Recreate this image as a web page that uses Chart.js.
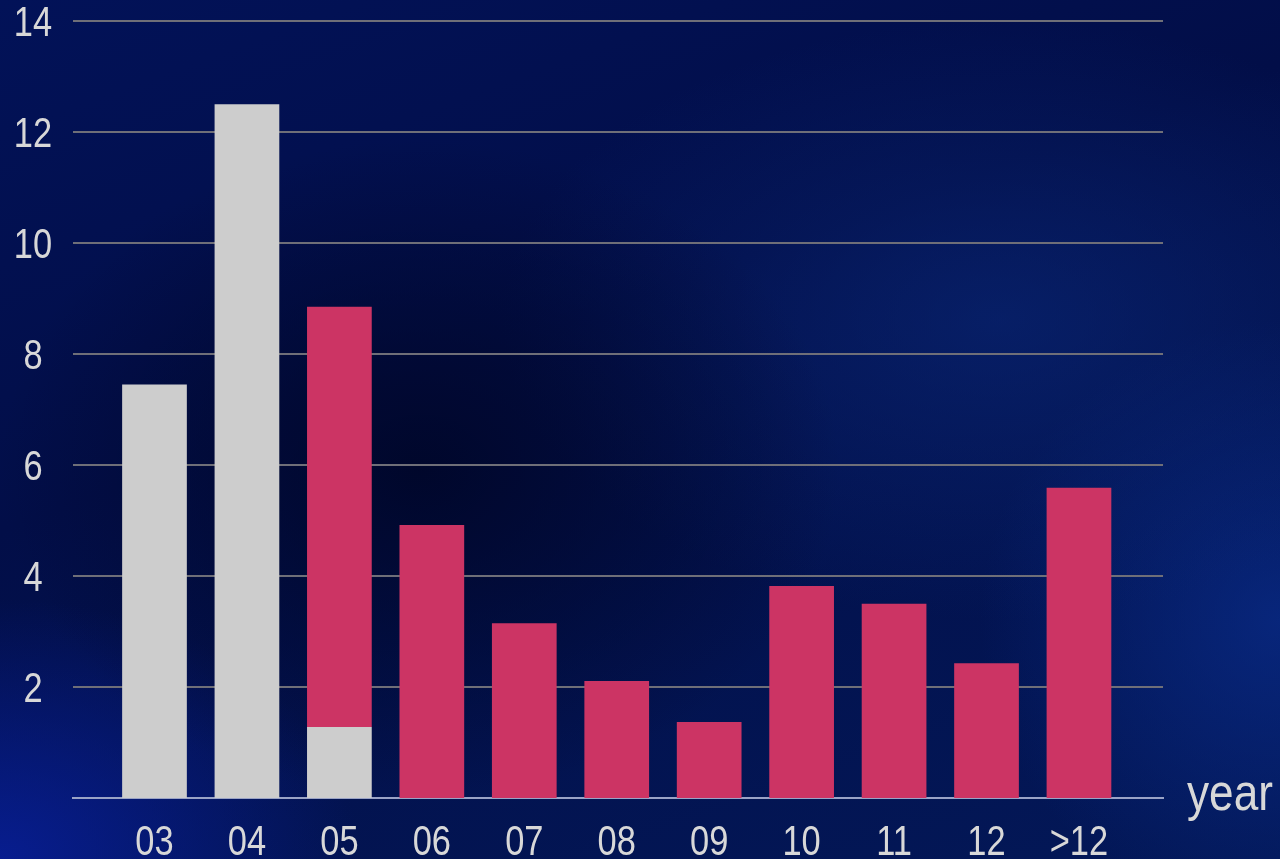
<!DOCTYPE html>
<html>
<head>
<meta charset="utf-8">
<script src="https://cdn.jsdelivr.net/npm/chart.js@4/dist/chart.umd.min.js"></script>
<style>
  html, body { margin: 0; padding: 0; }
  body {
    width: 1280px; height: 859px; overflow: hidden;
    background:
      radial-gradient(ellipse 420px 330px at 420px 470px, rgba(0,6,40,0.9), rgba(0,6,40,0) 100%),
      radial-gradient(ellipse 500px 300px at 1000px 320px, rgba(10,40,120,0.6), rgba(10,40,120,0) 100%),
      radial-gradient(ellipse 360px 260px at 0px 859px, rgba(8,30,150,0.9), rgba(8,30,150,0) 100%),
      radial-gradient(ellipse 300px 300px at 1280px 620px, rgba(10,45,140,0.7), rgba(10,45,140,0) 100%),
      linear-gradient(160deg, #021258 0%, #020e48 40%, #031858 100%);
  }
  #wrap { width: 1280px; height: 859px; }
</style>
</head>
<body>
<div id="wrap"><canvas id="chart" width="1280" height="859"></canvas></div>
<script>
const categories = ["03", "04", "05", "06", "07", "08", "09", "10", "11", "12", ">12"];
const greyValues = [7.45, 12.5, 1.28, null, null, null, null, null, null, null, null];
const pinkValues = [null, null, 7.57, 4.92, 3.15, 2.11, 1.37, 3.82, 3.5, 2.43, 5.59];
const yTicks = [2, 4, 6, 8, 10, 12, 14];

const FONT = "'Liberation Sans', Arial, sans-serif";
const SQUEEZE = 0.82; // the original uses a condensed face

function condensedText(c, text, x, y, size, align, baseline, squeeze) {
  c.save();
  c.font = size + "px " + FONT;
  c.fillStyle = "#d8d8d8";
  c.textAlign = align;
  c.textBaseline = baseline;
  c.translate(x, y);
  c.scale(squeeze || SQUEEZE, 1);
  c.fillText(text, 0, 0);
  c.restore();
}

// tick labels and the "year" caption, drawn condensed at the scales' positions
const labels = {
  id: "labels",
  afterDraw(chart) {
    const c = chart.ctx;
    const xs = chart.scales.x, ys = chart.scales.y;
    yTicks.forEach((v) => {
      condensedText(c, String(v), 33, ys.getPixelForValue(v) + 15, 42, "center", "alphabetic");
    });
    categories.forEach((lab, i) => {
      condensedText(c, lab, xs.getPixelForValue(i), 855, 42, "center", "alphabetic");
    });
    condensedText(c, "year", chart.chartArea.right + 24, ys.getPixelForValue(0) + 12, 52, "left", "alphabetic", 0.85);
  }
};

function toPoints(arr) {
  return arr.map((v, i) => ({ x: i, y: v }));
}

const ctx = document.getElementById("chart").getContext("2d");
const chart = new Chart(ctx, {
  type: "bar",
  data: {
    datasets: [
      {
        label: "grey",
        data: toPoints(greyValues),
        backgroundColor: "#cdcdcd",
        borderWidth: 0,
        categoryPercentage: 1,
        barPercentage: 0.70,
      },
      {
        label: "pink",
        data: toPoints(pinkValues),
        backgroundColor: "#cc3464",
        borderWidth: 0,
        categoryPercentage: 1,
        barPercentage: 0.70,
      },
    ],
  },
  options: {
    responsive: false,
    animation: false,
    layout: { padding: { top: 21, right: 117, left: 0, bottom: 0 } },
    plugins: {
      legend: { display: false },
      tooltip: { enabled: false },
    },
    scales: {
      x: {
        type: "linear",
        stacked: true,
        offset: false,
        min: -0.8815,
        max: 10.909,
        afterFit: (scale) => { scale.height = 61; },
        grid: { display: false, drawTicks: false, offset: false },
        border: { display: true, color: "#9aa3c6", width: 2 },
        ticks: { display: false, stepSize: 1, includeBounds: false },
      },
      y: {
        stacked: true,
        min: 0,
        max: 14,
        afterFit: (scale) => { scale.width = 73; },
        afterBuildTicks: (scale) => {
          scale.ticks = yTicks.map((v) => ({ value: v }));
        },
        grid: { color: "#6f6f78", lineWidth: 2, drawTicks: false },
        border: { display: false },
        ticks: { display: false },
      },
    },
  },
  plugins: [labels],
});
</script>
</body>
</html>
